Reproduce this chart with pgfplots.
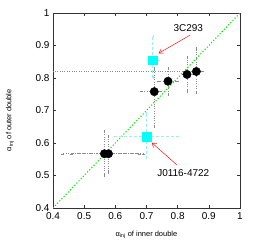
\documentclass[border=0pt]{standalone}
\usepackage{fontspec}
\setmainfont{Liberation Sans}
\usepackage{pgfplots}
\pgfplotsset{compat=1.18}
\usetikzlibrary{arrows.meta}
\definecolor{mycyan}{RGB}{0,255,255}
\definecolor{mygreen}{RGB}{0,230,0}
\definecolor{myred}{RGB}{255,0,0}
\definecolor{lcyan}{RGB}{150,240,250}
\begin{document}
\begin{tikzpicture}
\begin{axis}[
  at={(53bp,37bp)}, anchor=south west,
  width=187bp, height=195bp, scale only axis,
  xmin=0.4, xmax=1, ymin=0.4, ymax=1,
  xtick={0.4,0.5,...,1.0}, ytick={0.4,0.5,...,1.0},
  tick pos=both, tick align=inside,
  major tick length=3bp,
  xticklabels={0.4,0.5,0.6,0.7,0.8,0.9,1},
  yticklabels={0.4,0.5,0.6,0.7,0.8,0.9,1},
  tick label style={font=\fontsize{10}{11}\selectfont},
  xticklabel style={yshift=-1bp},
  axis line style={line width=0.5pt, black!80},
  every tick/.style={black!80, line width=0.4pt},
  xlabel={α\textsubscript{inj} of inner double},
  ylabel={α\textsubscript{inj} of outer double},
  label style={font=\fontsize{7.5}{9}\selectfont},
  xlabel style={at={(axis description cs:0.5,-0.138)}, anchor=center},
  ylabel style={at={(axis description cs:-0.23,0.45)}, anchor=center},
  clip=true,
]
\addplot[mygreen, line width=1.1pt, dotted] coordinates {(0.4,0.4) (1,1)};
% black points with gray dotted error bars
\addplot[only marks, mark=*, mark size=4.2bp, black,
  error bars/.cd, x dir=both, y dir=both, x explicit, y explicit,
  error bar style={black!45, dotted, line width=0.5pt},
  error mark options={black!45, mark size=1.5bp, solid, line width=0.4pt}]
coordinates {
  (0.565,0.567) += (0.125,0.067) -= (0.135,0.067)
  (0.578,0.567) += (0.10,0.053) -= (0.12,0.057)
  (0.725,0.758) += (0.02,0.072) -= (0.04,0.108)
  (0.769,0.790) += (0.03,0.038) -= (0.03,0.042)
  (0.830,0.811) += (0.02,0.051) -= (0.01,0.053)
  (0.860,0.820) += (0.02,0.07) -= (0.50,0.065)
};
% cyan squares with cyan dashed error bars
\addplot[only marks, mark=square*, mark size=4.3bp, mycyan,
  error bars/.cd, x dir=both, y dir=both, x explicit, y explicit,
  error bar style={lcyan, densely dashed, line width=0.5pt},
  error mark options={lcyan, mark size=1.5bp, solid, line width=0.4pt}]
coordinates {
  (0.720,0.855) += (0.017,0.072) -= (0.015,0.055)
  (0.700,0.620) += (0.10,0.07) -= (0.10,0.065)
};
\draw[myred, line width=0.45pt, -{Straight Barb[length=4bp,width=5bp]}] (axis cs:0.84,0.932) -- (axis cs:0.739,0.876);
\draw[myred, line width=0.45pt, -{Straight Barb[length=4bp,width=5bp]}] (axis cs:0.798,0.532) -- (axis cs:0.717,0.601);
\node[font=\fontsize{10}{11}\selectfont] at (axis cs:0.834,0.954) {3C293};
\node[font=\fontsize{10}{11}\selectfont] at (axis cs:0.818,0.509) {J0116-4722};
\end{axis}
\pgfresetboundingbox
\path[use as bounding box] (0,0) rectangle (261bp,245bp);
\end{tikzpicture}
\end{document}
